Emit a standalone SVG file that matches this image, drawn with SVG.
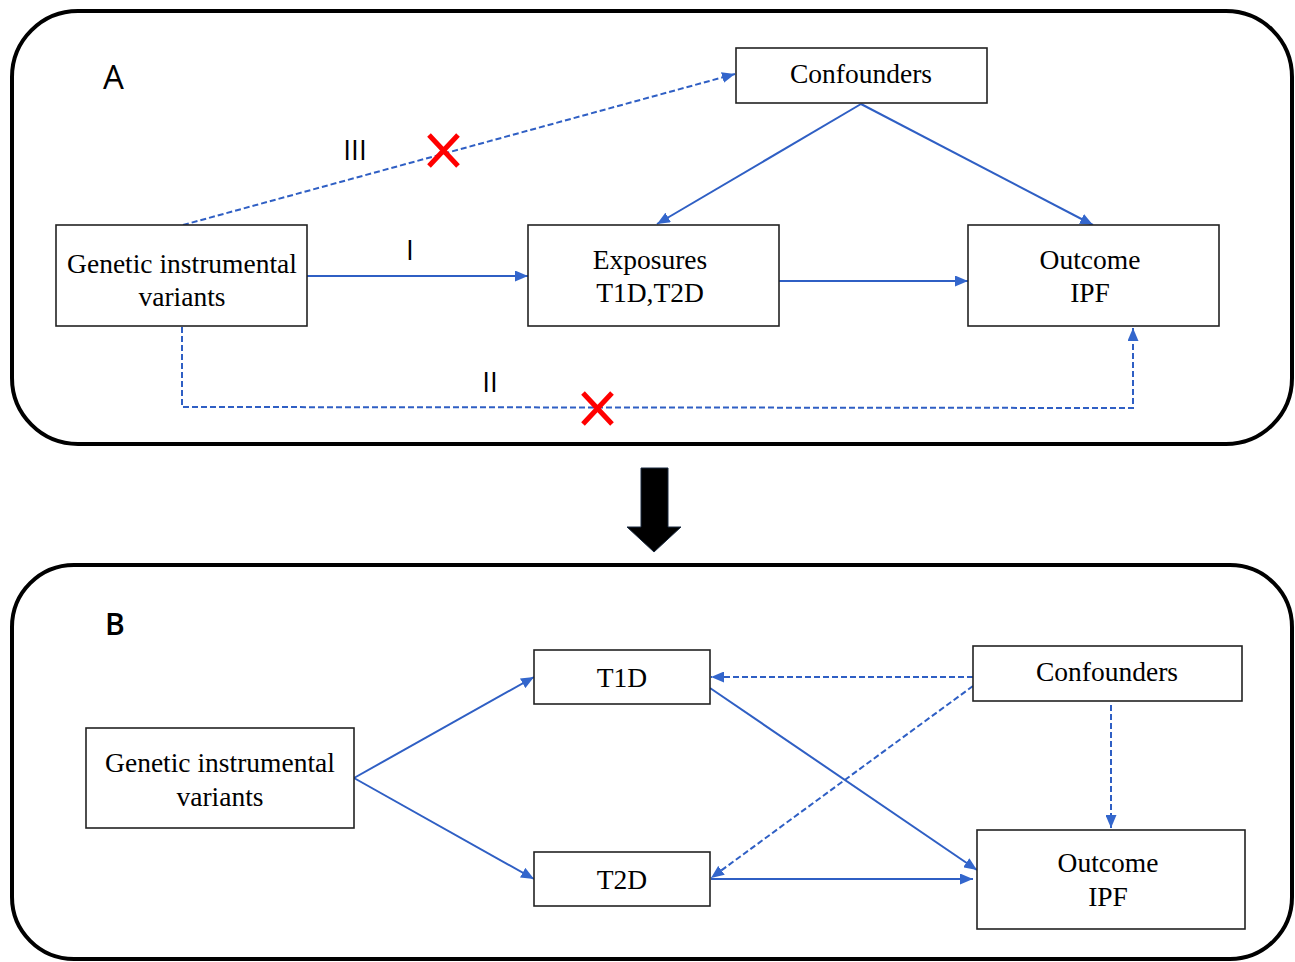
<svg xmlns="http://www.w3.org/2000/svg" width="1295" height="962" viewBox="0 0 1295 962">
<style>
.panel{fill:none;stroke:#000;stroke-width:4}
.box{fill:#fff;stroke:#222;stroke-width:1.6}
.t{font-family:"Liberation Serif","Times New Roman",serif;font-size:27.5px;fill:#000;text-anchor:middle}
.lbl{font-family:"Open Sans","DejaVu Sans",sans-serif;fill:#000}
.c{fill:none;stroke:#2F5FC4;stroke-width:2}
.d{fill:none;stroke:#2F5FC4;stroke-width:2;stroke-dasharray:6 3}
.x{stroke:#FF0000;stroke-width:5;fill:none}
</style>
<defs>
<marker id="a" viewBox="0 0 13 11" refX="13" refY="5.5" markerWidth="13" markerHeight="11" markerUnits="userSpaceOnUse" orient="auto">
<path d="M0,0 L13,5.5 L0,11 z" fill="#3366CC"/>
</marker>
</defs>
<rect width="1295" height="962" fill="#fff"/>
<rect class="panel" x="12" y="11" width="1280" height="433" rx="66" ry="66"/>
<rect class="panel" x="12" y="565" width="1280" height="394" rx="62" ry="62"/>
<text class="lbl" x="103" y="89" font-size="33">A</text>
<text class="lbl" x="105" y="635" font-size="30" font-weight="600">B</text>
<path d="M641,468 H668 V527 H681 L654,552 L627,527 H641 Z" fill="#000" stroke="#1a2a40" stroke-width="1"/>
<g id="connectors">
<line class="d" x1="183" y1="225" x2="735" y2="74" marker-end="url(#a)"/>
<line class="c" x1="307" y1="276" x2="528" y2="276" marker-end="url(#a)"/>
<line class="c" x1="779" y1="281" x2="968" y2="281" marker-end="url(#a)"/>
<line class="c" x1="861" y1="104" x2="657" y2="224" marker-end="url(#a)"/>
<line class="c" x1="861" y1="104" x2="1093" y2="225" marker-end="url(#a)"/>
<polyline class="d" points="182,327 182,407 1133,408 1133,328" marker-end="url(#a)"/>
<line class="c" x1="354" y1="778" x2="534" y2="677" marker-end="url(#a)"/>
<line class="c" x1="354" y1="778" x2="534" y2="879" marker-end="url(#a)"/>
<line class="d" x1="973" y1="677" x2="711" y2="677" marker-end="url(#a)"/>
<line class="d" x1="973" y1="686" x2="711" y2="878" marker-end="url(#a)"/>
<line class="c" x1="710" y1="688" x2="977" y2="870" marker-end="url(#a)"/>
<line class="c" x1="711" y1="879" x2="973" y2="879" marker-end="url(#a)"/>
<line class="d" x1="1111" y1="705" x2="1111" y2="828" marker-end="url(#a)"/>
</g>
<g id="marks">
<path class="x" d="M429,135 L458,166 M458,135 L429,166"/>
<path class="x" d="M583,393 L612,424 M612,393 L583,424"/>
<text class="lbl" x="355" y="160" font-size="28" text-anchor="middle">III</text>
<text class="lbl" x="410" y="260" font-size="28" text-anchor="middle">I</text>
<text class="lbl" x="490" y="392" font-size="28" text-anchor="middle">II</text>
</g>
<g id="confA"><rect class="box" x="736" y="48" width="251" height="55"/><text class="t" x="861" y="83">Confounders</text></g>
<g id="genA"><rect class="box" x="56" y="225" width="251" height="101"/><text class="t" x="182" y="273">Genetic instrumental</text><text class="t" x="182" y="306">variants</text></g>
<g id="expA"><rect class="box" x="528" y="225" width="251" height="101"/><text class="t" x="650" y="269">Exposures</text><text class="t" x="650" y="302">T1D,T2D</text></g>
<g id="outA"><rect class="box" x="968" y="225" width="251" height="101"/><text class="t" x="1090" y="269">Outcome</text><text class="t" x="1090" y="302">IPF</text></g>
<g id="genB"><rect class="box" x="86" y="728" width="268" height="100"/><text class="t" x="220" y="772">Genetic instrumental</text><text class="t" x="220" y="806">variants</text></g>
<g id="t1d"><rect class="box" x="534" y="650" width="176" height="54"/><text class="t" x="622" y="687">T1D</text></g>
<g id="t2d"><rect class="box" x="534" y="852" width="176" height="54"/><text class="t" x="622" y="889">T2D</text></g>
<g id="confB"><rect class="box" x="973" y="646" width="269" height="55"/><text class="t" x="1107" y="681">Confounders</text></g>
<g id="outB"><rect class="box" x="977" y="830" width="268" height="99"/><text class="t" x="1108" y="872">Outcome</text><text class="t" x="1108" y="906">IPF</text></g>
</svg>
